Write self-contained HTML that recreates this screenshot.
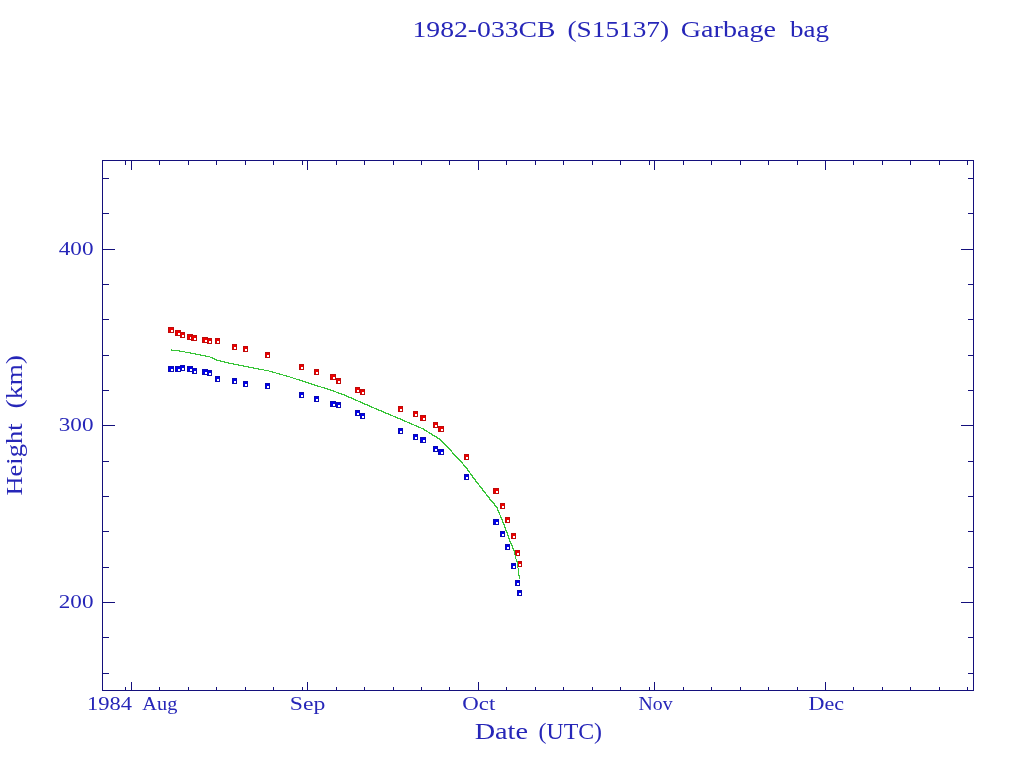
<!DOCTYPE html>
<html lang="en"><head><meta charset="utf-8"><title>1982-033CB (S15137) Garbage bag</title>
<style>html,body{margin:0;padding:0;background:#fff}svg{display:block}text{font-family:"Liberation Serif",serif;fill:#2626b8}</style></head><body>
<svg width="1024" height="768" viewBox="0 0 1024 768">
<rect width="1024" height="768" fill="#fff"/>
<g fill="#14107c" shape-rendering="crispEdges"><rect x="102" y="160" width="872" height="1"/><rect x="102" y="690" width="872" height="1"/><rect x="102" y="160" width="1" height="531"/><rect x="973" y="160" width="1" height="531"/><rect x="131" y="682" width="1" height="8"/><rect x="131" y="161" width="1" height="9"/><rect x="307" y="682" width="1" height="8"/><rect x="307" y="161" width="1" height="9"/><rect x="478" y="682" width="1" height="8"/><rect x="478" y="161" width="1" height="9"/><rect x="654" y="682" width="1" height="8"/><rect x="654" y="161" width="1" height="9"/><rect x="825" y="682" width="1" height="8"/><rect x="825" y="161" width="1" height="9"/><rect x="125" y="687" width="1" height="3"/><rect x="125" y="161" width="1" height="4"/><rect x="159" y="687" width="1" height="3"/><rect x="159" y="161" width="1" height="4"/><rect x="188" y="687" width="1" height="3"/><rect x="188" y="161" width="1" height="4"/><rect x="216" y="687" width="1" height="3"/><rect x="216" y="161" width="1" height="4"/><rect x="245" y="687" width="1" height="3"/><rect x="245" y="161" width="1" height="4"/><rect x="273" y="687" width="1" height="3"/><rect x="273" y="161" width="1" height="4"/><rect x="302" y="687" width="1" height="3"/><rect x="302" y="161" width="1" height="4"/><rect x="336" y="687" width="1" height="3"/><rect x="336" y="161" width="1" height="4"/><rect x="364" y="687" width="1" height="3"/><rect x="364" y="161" width="1" height="4"/><rect x="393" y="687" width="1" height="3"/><rect x="393" y="161" width="1" height="4"/><rect x="421" y="687" width="1" height="3"/><rect x="421" y="161" width="1" height="4"/><rect x="449" y="687" width="1" height="3"/><rect x="449" y="161" width="1" height="4"/><rect x="506" y="687" width="1" height="3"/><rect x="506" y="161" width="1" height="4"/><rect x="535" y="687" width="1" height="3"/><rect x="535" y="161" width="1" height="4"/><rect x="563" y="687" width="1" height="3"/><rect x="563" y="161" width="1" height="4"/><rect x="592" y="687" width="1" height="3"/><rect x="592" y="161" width="1" height="4"/><rect x="620" y="687" width="1" height="3"/><rect x="620" y="161" width="1" height="4"/><rect x="649" y="687" width="1" height="3"/><rect x="649" y="161" width="1" height="4"/><rect x="683" y="687" width="1" height="3"/><rect x="683" y="161" width="1" height="4"/><rect x="711" y="687" width="1" height="3"/><rect x="711" y="161" width="1" height="4"/><rect x="740" y="687" width="1" height="3"/><rect x="740" y="161" width="1" height="4"/><rect x="768" y="687" width="1" height="3"/><rect x="768" y="161" width="1" height="4"/><rect x="797" y="687" width="1" height="3"/><rect x="797" y="161" width="1" height="4"/><rect x="853" y="687" width="1" height="3"/><rect x="853" y="161" width="1" height="4"/><rect x="882" y="687" width="1" height="3"/><rect x="882" y="161" width="1" height="4"/><rect x="910" y="687" width="1" height="3"/><rect x="910" y="161" width="1" height="4"/><rect x="939" y="687" width="1" height="3"/><rect x="939" y="161" width="1" height="4"/><rect x="967" y="687" width="1" height="3"/><rect x="967" y="161" width="1" height="4"/><rect x="103" y="249" width="12" height="1"/><rect x="961" y="249" width="12" height="1"/><rect x="103" y="425" width="12" height="1"/><rect x="961" y="425" width="12" height="1"/><rect x="103" y="602" width="12" height="1"/><rect x="961" y="602" width="12" height="1"/><rect x="103" y="178" width="6" height="1"/><rect x="968" y="178" width="5" height="1"/><rect x="103" y="213" width="6" height="1"/><rect x="968" y="213" width="5" height="1"/><rect x="103" y="284" width="6" height="1"/><rect x="968" y="284" width="5" height="1"/><rect x="103" y="319" width="6" height="1"/><rect x="968" y="319" width="5" height="1"/><rect x="103" y="355" width="6" height="1"/><rect x="968" y="355" width="5" height="1"/><rect x="103" y="390" width="6" height="1"/><rect x="968" y="390" width="5" height="1"/><rect x="103" y="461" width="6" height="1"/><rect x="968" y="461" width="5" height="1"/><rect x="103" y="496" width="6" height="1"/><rect x="968" y="496" width="5" height="1"/><rect x="103" y="531" width="6" height="1"/><rect x="968" y="531" width="5" height="1"/><rect x="103" y="567" width="6" height="1"/><rect x="968" y="567" width="5" height="1"/><rect x="103" y="637" width="6" height="1"/><rect x="968" y="637" width="5" height="1"/><rect x="103" y="673" width="6" height="1"/><rect x="968" y="673" width="5" height="1"/></g>
<text x="412.5" y="37.0" font-size="24" textLength="143.0" lengthAdjust="spacingAndGlyphs">1982-033CB</text>
<text x="567.5" y="37.0" font-size="24" textLength="101.5" lengthAdjust="spacingAndGlyphs">(S15137)</text>
<text x="680.8" y="37.0" font-size="24" textLength="95.2" lengthAdjust="spacingAndGlyphs">Garbage</text>
<text x="790.0" y="37.0" font-size="24" textLength="39.0" lengthAdjust="spacingAndGlyphs">bag</text>
<text x="474.7" y="738.5" font-size="24" textLength="53.3" lengthAdjust="spacingAndGlyphs">Date</text>
<text x="538.5" y="738.5" font-size="24" textLength="63.5" lengthAdjust="spacingAndGlyphs">(UTC)</text>
<g transform="translate(22,495) rotate(-90)">
<text x="-0.5" y="0.0" font-size="24" textLength="72.0" lengthAdjust="spacingAndGlyphs">Height</text>
<text x="86.5" y="0.0" font-size="24" textLength="53.5" lengthAdjust="spacingAndGlyphs">(km)</text>
</g>
<text x="87.0" y="710.0" font-size="18" textLength="45.0" lengthAdjust="spacingAndGlyphs">1984</text>
<text x="142.3" y="710.0" font-size="18" textLength="35.0" lengthAdjust="spacingAndGlyphs">Aug</text>
<text x="289.8" y="710.0" font-size="18" textLength="35.5" lengthAdjust="spacingAndGlyphs">Sep</text>
<text x="462.3" y="710.0" font-size="18" textLength="33.0" lengthAdjust="spacingAndGlyphs">Oct</text>
<text x="638.5" y="710.0" font-size="18" textLength="34.0" lengthAdjust="spacingAndGlyphs">Nov</text>
<text x="808.5" y="710.0" font-size="18" textLength="35.5" lengthAdjust="spacingAndGlyphs">Dec</text>
<text x="58.8" y="254.5" font-size="18" textLength="34.7" lengthAdjust="spacingAndGlyphs">400</text>
<text x="58.8" y="430.5" font-size="18" textLength="34.7" lengthAdjust="spacingAndGlyphs">300</text>
<text x="58.8" y="607.5" font-size="18" textLength="34.7" lengthAdjust="spacingAndGlyphs">200</text>
<g shape-rendering="crispEdges"><rect x="168" y="366" width="6" height="6" fill="#0a0ab4"/><rect x="169" y="367" width="4" height="4" fill="#0000f0"/><rect x="171" y="369" width="2" height="2" fill="#fff"/><rect x="175" y="366" width="6" height="6" fill="#0a0ab4"/><rect x="176" y="367" width="4" height="4" fill="#0000f0"/><rect x="178" y="369" width="2" height="2" fill="#fff"/><rect x="180" y="365" width="5" height="6" fill="#0a0ab4"/><rect x="181" y="366" width="3" height="4" fill="#0000f0"/><rect x="182" y="368" width="2" height="2" fill="#fff"/><rect x="187" y="366" width="6" height="6" fill="#0a0ab4"/><rect x="188" y="367" width="4" height="4" fill="#0000f0"/><rect x="190" y="369" width="2" height="2" fill="#fff"/><rect x="192" y="368" width="5" height="6" fill="#0a0ab4"/><rect x="193" y="369" width="3" height="4" fill="#0000f0"/><rect x="194" y="371" width="2" height="2" fill="#fff"/><rect x="202" y="369" width="6" height="6" fill="#0a0ab4"/><rect x="203" y="370" width="4" height="4" fill="#0000f0"/><rect x="205" y="372" width="2" height="2" fill="#fff"/><rect x="207" y="370" width="5" height="6" fill="#0a0ab4"/><rect x="208" y="371" width="3" height="4" fill="#0000f0"/><rect x="209" y="373" width="2" height="2" fill="#fff"/><rect x="215" y="376" width="5" height="6" fill="#0a0ab4"/><rect x="216" y="377" width="3" height="4" fill="#0000f0"/><rect x="217" y="379" width="2" height="2" fill="#fff"/><rect x="232" y="378" width="5" height="6" fill="#0a0ab4"/><rect x="233" y="379" width="3" height="4" fill="#0000f0"/><rect x="234" y="381" width="2" height="2" fill="#fff"/><rect x="243" y="381" width="5" height="6" fill="#0a0ab4"/><rect x="244" y="382" width="3" height="4" fill="#0000f0"/><rect x="245" y="384" width="2" height="2" fill="#fff"/><rect x="265" y="383" width="5" height="6" fill="#0a0ab4"/><rect x="266" y="384" width="3" height="4" fill="#0000f0"/><rect x="267" y="386" width="2" height="2" fill="#fff"/><rect x="299" y="392" width="5" height="6" fill="#0a0ab4"/><rect x="300" y="393" width="3" height="4" fill="#0000f0"/><rect x="301" y="395" width="2" height="2" fill="#fff"/><rect x="314" y="396" width="5" height="6" fill="#0a0ab4"/><rect x="315" y="397" width="3" height="4" fill="#0000f0"/><rect x="316" y="399" width="2" height="2" fill="#fff"/><rect x="330" y="401" width="6" height="6" fill="#0a0ab4"/><rect x="331" y="402" width="4" height="4" fill="#0000f0"/><rect x="333" y="404" width="2" height="2" fill="#fff"/><rect x="336" y="402" width="5" height="6" fill="#0a0ab4"/><rect x="337" y="403" width="3" height="4" fill="#0000f0"/><rect x="338" y="405" width="2" height="2" fill="#fff"/><rect x="355" y="410" width="5" height="6" fill="#0a0ab4"/><rect x="356" y="411" width="3" height="4" fill="#0000f0"/><rect x="357" y="413" width="2" height="2" fill="#fff"/><rect x="360" y="413" width="5" height="6" fill="#0a0ab4"/><rect x="361" y="414" width="3" height="4" fill="#0000f0"/><rect x="362" y="416" width="2" height="2" fill="#fff"/><rect x="398" y="428" width="5" height="6" fill="#0a0ab4"/><rect x="399" y="429" width="3" height="4" fill="#0000f0"/><rect x="400" y="431" width="2" height="2" fill="#fff"/><rect x="413" y="434" width="5" height="6" fill="#0a0ab4"/><rect x="414" y="435" width="3" height="4" fill="#0000f0"/><rect x="415" y="437" width="2" height="2" fill="#fff"/><rect x="420" y="437" width="6" height="6" fill="#0a0ab4"/><rect x="421" y="438" width="4" height="4" fill="#0000f0"/><rect x="423" y="440" width="2" height="2" fill="#fff"/><rect x="433" y="446" width="5" height="6" fill="#0a0ab4"/><rect x="434" y="447" width="3" height="4" fill="#0000f0"/><rect x="435" y="449" width="2" height="2" fill="#fff"/><rect x="438" y="449" width="6" height="6" fill="#0a0ab4"/><rect x="439" y="450" width="4" height="4" fill="#0000f0"/><rect x="441" y="452" width="2" height="2" fill="#fff"/><rect x="464" y="474" width="5" height="6" fill="#0a0ab4"/><rect x="465" y="475" width="3" height="4" fill="#0000f0"/><rect x="466" y="477" width="2" height="2" fill="#fff"/><rect x="493" y="519" width="6" height="6" fill="#0a0ab4"/><rect x="494" y="520" width="4" height="4" fill="#0000f0"/><rect x="496" y="522" width="2" height="2" fill="#fff"/><rect x="500" y="531" width="5" height="6" fill="#0a0ab4"/><rect x="501" y="532" width="3" height="4" fill="#0000f0"/><rect x="502" y="534" width="2" height="2" fill="#fff"/><rect x="505" y="544" width="5" height="6" fill="#0a0ab4"/><rect x="506" y="545" width="3" height="4" fill="#0000f0"/><rect x="507" y="547" width="2" height="2" fill="#fff"/><rect x="511" y="563" width="5" height="6" fill="#0a0ab4"/><rect x="512" y="564" width="3" height="4" fill="#0000f0"/><rect x="513" y="566" width="2" height="2" fill="#fff"/><rect x="515" y="580" width="5" height="6" fill="#0a0ab4"/><rect x="516" y="581" width="3" height="4" fill="#0000f0"/><rect x="517" y="583" width="2" height="2" fill="#fff"/><rect x="517" y="590" width="5" height="6" fill="#0a0ab4"/><rect x="518" y="591" width="3" height="4" fill="#0000f0"/><rect x="519" y="593" width="2" height="2" fill="#fff"/></g>
<g shape-rendering="crispEdges"><rect x="168" y="327" width="6" height="6" fill="#c00a0a"/><rect x="169" y="328" width="4" height="4" fill="#f00000"/><rect x="171" y="330" width="2" height="2" fill="#fff"/><rect x="175" y="330" width="6" height="6" fill="#c00a0a"/><rect x="176" y="331" width="4" height="4" fill="#f00000"/><rect x="178" y="333" width="2" height="2" fill="#fff"/><rect x="180" y="332" width="5" height="6" fill="#c00a0a"/><rect x="181" y="333" width="3" height="4" fill="#f00000"/><rect x="182" y="335" width="2" height="2" fill="#fff"/><rect x="187" y="334" width="6" height="6" fill="#c00a0a"/><rect x="188" y="335" width="4" height="4" fill="#f00000"/><rect x="190" y="337" width="2" height="2" fill="#fff"/><rect x="191" y="335" width="6" height="6" fill="#c00a0a"/><rect x="192" y="336" width="4" height="4" fill="#f00000"/><rect x="194" y="338" width="2" height="2" fill="#fff"/><rect x="202" y="337" width="6" height="6" fill="#c00a0a"/><rect x="203" y="338" width="4" height="4" fill="#f00000"/><rect x="205" y="340" width="2" height="2" fill="#fff"/><rect x="207" y="338" width="5" height="6" fill="#c00a0a"/><rect x="208" y="339" width="3" height="4" fill="#f00000"/><rect x="209" y="341" width="2" height="2" fill="#fff"/><rect x="215" y="338" width="5" height="6" fill="#c00a0a"/><rect x="216" y="339" width="3" height="4" fill="#f00000"/><rect x="217" y="341" width="2" height="2" fill="#fff"/><rect x="232" y="344" width="5" height="6" fill="#c00a0a"/><rect x="233" y="345" width="3" height="4" fill="#f00000"/><rect x="234" y="347" width="2" height="2" fill="#fff"/><rect x="243" y="346" width="5" height="6" fill="#c00a0a"/><rect x="244" y="347" width="3" height="4" fill="#f00000"/><rect x="245" y="349" width="2" height="2" fill="#fff"/><rect x="265" y="352" width="5" height="6" fill="#c00a0a"/><rect x="266" y="353" width="3" height="4" fill="#f00000"/><rect x="267" y="355" width="2" height="2" fill="#fff"/><rect x="299" y="364" width="5" height="6" fill="#c00a0a"/><rect x="300" y="365" width="3" height="4" fill="#f00000"/><rect x="301" y="367" width="2" height="2" fill="#fff"/><rect x="314" y="369" width="5" height="6" fill="#c00a0a"/><rect x="315" y="370" width="3" height="4" fill="#f00000"/><rect x="316" y="372" width="2" height="2" fill="#fff"/><rect x="330" y="374" width="6" height="6" fill="#c00a0a"/><rect x="331" y="375" width="4" height="4" fill="#f00000"/><rect x="333" y="377" width="2" height="2" fill="#fff"/><rect x="336" y="378" width="5" height="6" fill="#c00a0a"/><rect x="337" y="379" width="3" height="4" fill="#f00000"/><rect x="338" y="381" width="2" height="2" fill="#fff"/><rect x="355" y="387" width="5" height="6" fill="#c00a0a"/><rect x="356" y="388" width="3" height="4" fill="#f00000"/><rect x="357" y="390" width="2" height="2" fill="#fff"/><rect x="360" y="389" width="5" height="6" fill="#c00a0a"/><rect x="361" y="390" width="3" height="4" fill="#f00000"/><rect x="362" y="392" width="2" height="2" fill="#fff"/><rect x="398" y="406" width="5" height="6" fill="#c00a0a"/><rect x="399" y="407" width="3" height="4" fill="#f00000"/><rect x="400" y="409" width="2" height="2" fill="#fff"/><rect x="413" y="411" width="5" height="6" fill="#c00a0a"/><rect x="414" y="412" width="3" height="4" fill="#f00000"/><rect x="415" y="414" width="2" height="2" fill="#fff"/><rect x="420" y="415" width="6" height="6" fill="#c00a0a"/><rect x="421" y="416" width="4" height="4" fill="#f00000"/><rect x="423" y="418" width="2" height="2" fill="#fff"/><rect x="433" y="422" width="5" height="6" fill="#c00a0a"/><rect x="434" y="423" width="3" height="4" fill="#f00000"/><rect x="435" y="425" width="2" height="2" fill="#fff"/><rect x="438" y="426" width="6" height="6" fill="#c00a0a"/><rect x="439" y="427" width="4" height="4" fill="#f00000"/><rect x="441" y="429" width="2" height="2" fill="#fff"/><rect x="464" y="454" width="5" height="6" fill="#c00a0a"/><rect x="465" y="455" width="3" height="4" fill="#f00000"/><rect x="466" y="457" width="2" height="2" fill="#fff"/><rect x="493" y="488" width="6" height="6" fill="#c00a0a"/><rect x="494" y="489" width="4" height="4" fill="#f00000"/><rect x="496" y="491" width="2" height="2" fill="#fff"/><rect x="500" y="503" width="5" height="6" fill="#c00a0a"/><rect x="501" y="504" width="3" height="4" fill="#f00000"/><rect x="502" y="506" width="2" height="2" fill="#fff"/><rect x="505" y="517" width="5" height="6" fill="#c00a0a"/><rect x="506" y="518" width="3" height="4" fill="#f00000"/><rect x="507" y="520" width="2" height="2" fill="#fff"/><rect x="511" y="533" width="5" height="6" fill="#c00a0a"/><rect x="512" y="534" width="3" height="4" fill="#f00000"/><rect x="513" y="536" width="2" height="2" fill="#fff"/><rect x="515" y="550" width="5" height="6" fill="#c00a0a"/><rect x="516" y="551" width="3" height="4" fill="#f00000"/><rect x="517" y="553" width="2" height="2" fill="#fff"/><rect x="517" y="561" width="5" height="6" fill="#c00a0a"/><rect x="518" y="562" width="3" height="4" fill="#f00000"/><rect x="519" y="564" width="2" height="2" fill="#fff"/></g>
<g fill="#36c436" shape-rendering="crispEdges"><rect x="171" y="349" width="1" height="1"/><rect x="171" y="350" width="9" height="1"/><rect x="179" y="351" width="6" height="1"/><rect x="185" y="352" width="6" height="1"/><rect x="190" y="353" width="6" height="1"/><rect x="195" y="354" width="6" height="1"/><rect x="200" y="355" width="6" height="1"/><rect x="205" y="356" width="5" height="1"/><rect x="210" y="357" width="3" height="1"/><rect x="212" y="358" width="3" height="1"/><rect x="214" y="359" width="3" height="1"/><rect x="216" y="360" width="5" height="1"/><rect x="220" y="361" width="5" height="1"/><rect x="224" y="362" width="5" height="1"/><rect x="228" y="363" width="6" height="1"/><rect x="233" y="364" width="6" height="1"/><rect x="238" y="365" width="6" height="1"/><rect x="243" y="366" width="6" height="1"/><rect x="248" y="367" width="6" height="1"/><rect x="253" y="368" width="6" height="1"/><rect x="258" y="369" width="6" height="1"/><rect x="264" y="370" width="5" height="1"/><rect x="269" y="371" width="4" height="1"/><rect x="272" y="372" width="4" height="1"/><rect x="276" y="373" width="4" height="1"/><rect x="279" y="374" width="4" height="1"/><rect x="283" y="375" width="4" height="1"/><rect x="286" y="376" width="4" height="1"/><rect x="290" y="377" width="3" height="1"/><rect x="293" y="378" width="3" height="1"/><rect x="296" y="379" width="4" height="1"/><rect x="299" y="380" width="4" height="1"/><rect x="302" y="381" width="4" height="1"/><rect x="305" y="382" width="4" height="1"/><rect x="308" y="383" width="4" height="1"/><rect x="311" y="384" width="4" height="1"/><rect x="314" y="385" width="4" height="1"/><rect x="317" y="386" width="4" height="1"/><rect x="321" y="387" width="4" height="1"/><rect x="324" y="388" width="4" height="1"/><rect x="327" y="389" width="4" height="1"/><rect x="330" y="390" width="4" height="1"/><rect x="333" y="391" width="3" height="1"/><rect x="336" y="392" width="3" height="1"/><rect x="338" y="393" width="4" height="1"/><rect x="341" y="394" width="4" height="1"/><rect x="344" y="395" width="3" height="1"/><rect x="346" y="396" width="3" height="1"/><rect x="348" y="397" width="4" height="1"/><rect x="351" y="398" width="3" height="1"/><rect x="353" y="399" width="3" height="1"/><rect x="355" y="400" width="3" height="1"/><rect x="358" y="401" width="3" height="1"/><rect x="360" y="402" width="3" height="1"/><rect x="362" y="403" width="3" height="1"/><rect x="364" y="404" width="4" height="1"/><rect x="367" y="405" width="3" height="1"/><rect x="369" y="406" width="3" height="1"/><rect x="371" y="407" width="3" height="1"/><rect x="374" y="408" width="3" height="1"/><rect x="376" y="409" width="3" height="1"/><rect x="378" y="410" width="4" height="1"/><rect x="381" y="411" width="3" height="1"/><rect x="383" y="412" width="3" height="1"/><rect x="385" y="413" width="4" height="1"/><rect x="388" y="414" width="3" height="1"/><rect x="390" y="415" width="3" height="1"/><rect x="393" y="416" width="3" height="1"/><rect x="395" y="417" width="3" height="1"/><rect x="397" y="418" width="4" height="1"/><rect x="400" y="419" width="3" height="1"/><rect x="402" y="420" width="3" height="1"/><rect x="404" y="421" width="3" height="1"/><rect x="407" y="422" width="3" height="1"/><rect x="409" y="423" width="3" height="1"/><rect x="411" y="424" width="3" height="1"/><rect x="414" y="425" width="3" height="1"/><rect x="416" y="426" width="3" height="1"/><rect x="418" y="427" width="3" height="1"/><rect x="421" y="428" width="3" height="1"/><rect x="423" y="429" width="2" height="1"/><rect x="424" y="430" width="3" height="1"/><rect x="426" y="431" width="2" height="1"/><rect x="428" y="432" width="2" height="1"/><rect x="429" y="433" width="3" height="1"/><rect x="431" y="434" width="2" height="1"/><rect x="432" y="435" width="3" height="1"/><rect x="434" y="436" width="3" height="1"/><rect x="436" y="437" width="2" height="1"/><rect x="437" y="438" width="3" height="1"/><rect x="439" y="439" width="2" height="1"/><rect x="440" y="440" width="2" height="1"/><rect x="441" y="441" width="2" height="1"/><rect x="442" y="442" width="2" height="1"/><rect x="443" y="443" width="2" height="1"/><rect x="444" y="444" width="2" height="1"/><rect x="445" y="445" width="2" height="1"/><rect x="446" y="446" width="2" height="1"/><rect x="447" y="447" width="2" height="1"/><rect x="448" y="448" width="2" height="1"/><rect x="449" y="449" width="2" height="1"/><rect x="450" y="450" width="2" height="1"/><rect x="451" y="451" width="1" height="1"/><rect x="452" y="452" width="1" height="1"/><rect x="452" y="453" width="2" height="1"/><rect x="453" y="454" width="2" height="1"/><rect x="454" y="455" width="2" height="1"/><rect x="455" y="456" width="2" height="1"/><rect x="456" y="457" width="2" height="1"/><rect x="457" y="458" width="2" height="1"/><rect x="458" y="459" width="2" height="1"/><rect x="459" y="460" width="2" height="1"/><rect x="460" y="461" width="2" height="1"/><rect x="461" y="462" width="2" height="1"/><rect x="462" y="463" width="1" height="1"/><rect x="463" y="464" width="1" height="1"/><rect x="463" y="465" width="2" height="1"/><rect x="464" y="466" width="2" height="1"/><rect x="465" y="467" width="2" height="1"/><rect x="466" y="468" width="2" height="1"/><rect x="467" y="469" width="1" height="1"/><rect x="467" y="470" width="2" height="1"/><rect x="468" y="471" width="2" height="1"/><rect x="469" y="472" width="1" height="1"/><rect x="470" y="473" width="1" height="1"/><rect x="470" y="474" width="2" height="1"/><rect x="471" y="475" width="2" height="1"/><rect x="472" y="476" width="1" height="1"/><rect x="472" y="477" width="2" height="1"/><rect x="473" y="478" width="2" height="1"/><rect x="474" y="479" width="2" height="1"/><rect x="475" y="480" width="1" height="1"/><rect x="475" y="481" width="2" height="1"/><rect x="476" y="482" width="2" height="1"/><rect x="477" y="483" width="2" height="1"/><rect x="478" y="484" width="1" height="1"/><rect x="479" y="485" width="1" height="1"/><rect x="479" y="486" width="2" height="1"/><rect x="480" y="487" width="2" height="1"/><rect x="481" y="488" width="2" height="1"/><rect x="482" y="489" width="1" height="1"/><rect x="482" y="490" width="2" height="1"/><rect x="483" y="491" width="2" height="1"/><rect x="484" y="492" width="2" height="1"/><rect x="485" y="493" width="1" height="1"/><rect x="486" y="494" width="1" height="1"/><rect x="486" y="495" width="2" height="1"/><rect x="487" y="496" width="2" height="1"/><rect x="488" y="497" width="2" height="1"/><rect x="489" y="498" width="1" height="1"/><rect x="489" y="499" width="2" height="1"/><rect x="490" y="500" width="2" height="1"/><rect x="491" y="501" width="2" height="1"/><rect x="492" y="502" width="2" height="1"/><rect x="493" y="503" width="2" height="1"/><rect x="494" y="504" width="1" height="1"/><rect x="494" y="505" width="2" height="1"/><rect x="495" y="506" width="2" height="1"/><rect x="496" y="507" width="2" height="1"/><rect x="497" y="508" width="1" height="1"/><rect x="497" y="509" width="1" height="1"/><rect x="497" y="510" width="2" height="1"/><rect x="498" y="511" width="1" height="1"/><rect x="498" y="512" width="2" height="1"/><rect x="499" y="513" width="1" height="1"/><rect x="499" y="514" width="1" height="1"/><rect x="500" y="515" width="1" height="1"/><rect x="500" y="516" width="1" height="1"/><rect x="500" y="517" width="2" height="1"/><rect x="501" y="518" width="1" height="1"/><rect x="501" y="519" width="2" height="1"/><rect x="502" y="520" width="1" height="1"/><rect x="502" y="521" width="1" height="1"/><rect x="502" y="522" width="2" height="1"/><rect x="503" y="523" width="1" height="1"/><rect x="503" y="524" width="2" height="1"/><rect x="504" y="525" width="1" height="1"/><rect x="504" y="526" width="1" height="1"/><rect x="504" y="527" width="2" height="1"/><rect x="505" y="528" width="1" height="1"/><rect x="505" y="529" width="1" height="1"/><rect x="505" y="530" width="2" height="1"/><rect x="506" y="531" width="1" height="1"/><rect x="506" y="532" width="2" height="1"/><rect x="507" y="533" width="1" height="1"/><rect x="507" y="534" width="1" height="1"/><rect x="507" y="535" width="2" height="1"/><rect x="508" y="536" width="1" height="1"/><rect x="508" y="537" width="1" height="1"/><rect x="508" y="538" width="2" height="1"/><rect x="509" y="539" width="1" height="1"/><rect x="509" y="540" width="1" height="1"/><rect x="509" y="541" width="2" height="1"/><rect x="510" y="542" width="1" height="1"/><rect x="510" y="543" width="2" height="1"/><rect x="511" y="544" width="1" height="1"/><rect x="511" y="545" width="2" height="1"/><rect x="512" y="546" width="1" height="1"/><rect x="512" y="547" width="1" height="1"/><rect x="512" y="548" width="2" height="1"/><rect x="513" y="549" width="1" height="1"/><rect x="513" y="550" width="2" height="1"/><rect x="514" y="551" width="1" height="1"/><rect x="514" y="552" width="1" height="1"/><rect x="514" y="553" width="1" height="1"/><rect x="514" y="554" width="1" height="1"/><rect x="515" y="555" width="1" height="1"/><rect x="515" y="556" width="1" height="1"/><rect x="515" y="557" width="1" height="1"/><rect x="515" y="558" width="1" height="1"/><rect x="516" y="559" width="1" height="1"/><rect x="516" y="560" width="1" height="1"/><rect x="516" y="561" width="2" height="1"/><rect x="517" y="562" width="1" height="1"/><rect x="517" y="563" width="1" height="1"/><rect x="517" y="564" width="1" height="1"/><rect x="517" y="565" width="1" height="1"/><rect x="517" y="566" width="1" height="1"/><rect x="517" y="567" width="1" height="1"/><rect x="518" y="568" width="1" height="1"/><rect x="518" y="569" width="1" height="1"/><rect x="518" y="570" width="1" height="1"/><rect x="518" y="571" width="1" height="1"/><rect x="518" y="572" width="1" height="1"/><rect x="518" y="573" width="1" height="1"/><rect x="518" y="574" width="1" height="1"/><rect x="518" y="575" width="2" height="1"/><rect x="519" y="576" width="1" height="1"/><rect x="519" y="577" width="1" height="1"/><rect x="519" y="578" width="1" height="1"/></g>
</svg></body></html>
